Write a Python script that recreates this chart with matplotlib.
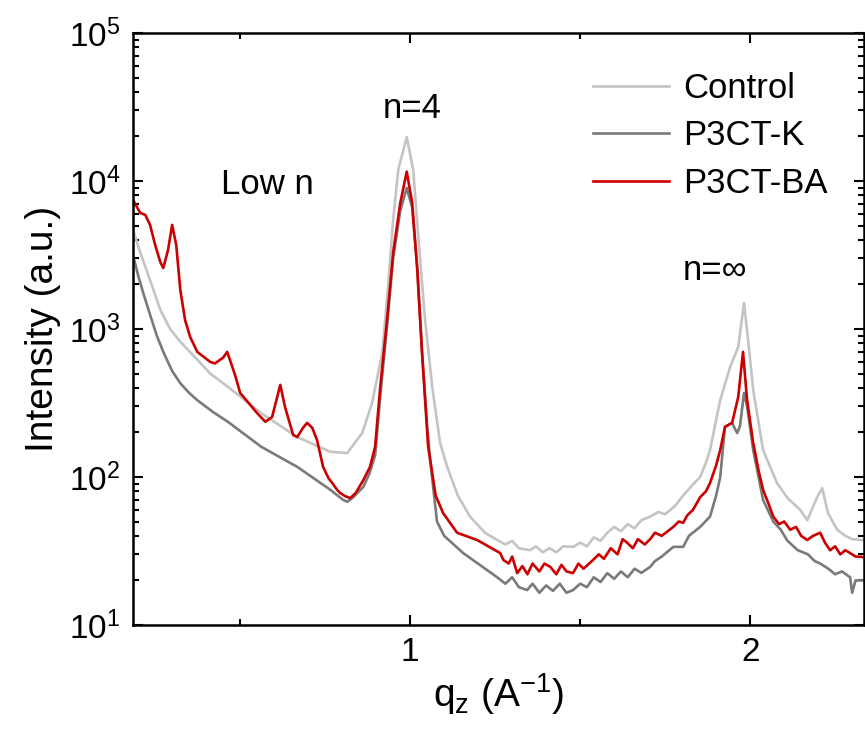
import matplotlib
matplotlib.use("Agg")
import matplotlib.pyplot as plt
from matplotlib.ticker import LogLocator, FixedLocator, NullFormatter

plt.rcParams['font.family'] = ['Liberation Sans', 'DejaVu Sans']
plt.rcParams['mathtext.fontset'] = 'custom'
plt.rcParams['mathtext.rm'] = 'Liberation Sans'
plt.rcParams['mathtext.it'] = 'Liberation Sans:italic'

# Control (light grey)
q_control = [0.185, 0.206, 0.235, 0.265, 0.294, 0.324, 0.374, 0.412, 0.465, 0.562,
             0.668, 0.765, 0.815, 0.859, 0.888, 0.918, 0.935, 0.950, 0.965, 0.990,
             1.009, 1.024, 1.044, 1.065, 1.088, 1.109, 1.14, 1.176, 1.22, 1.256,
             1.28, 1.30, 1.32, 1.353, 1.37, 1.39,
             1.41, 1.43, 1.45, 1.48, 1.50, 1.52, 1.54, 1.56, 1.58, 1.60,
             1.62, 1.64, 1.66, 1.68, 1.706, 1.73, 1.75, 1.78, 1.803, 1.83,
             1.853, 1.87, 1.882, 1.912, 1.941, 1.965, 1.982, 1.994, 2.009, 2.038,
             2.079, 2.11, 2.147, 2.168, 2.197, 2.212, 2.229, 2.256, 2.28, 2.30, 2.332]
i_control = [4670, 3300, 2140, 1350, 1000, 820, 620, 500, 405, 270,
             186, 148, 145, 198, 316, 690, 1920, 5450, 11900, 19800,
             11900, 4190, 1150, 405, 170, 117, 75, 54, 42, 37.5,
             35, 37, 33, 32, 34, 31,
             33, 31, 34, 33.7, 36, 34, 39, 37, 42, 46,
             43, 48, 45, 51, 54, 58, 56, 64, 75, 88,
             100, 125, 152, 331, 553, 755, 1500, 843, 387, 152,
             91, 72, 60, 51, 73, 84, 57, 44, 40, 38, 37.5]

# P3CT-K (dark grey)
q_k = [0.185, 0.20, 0.215, 0.235, 0.255, 0.274, 0.30, 0.324, 0.35, 0.374,
       0.42, 0.465, 0.562, 0.668, 0.765, 0.803, 0.815, 0.83, 0.862, 0.88,
       0.897, 0.912, 0.932, 0.950, 0.971, 0.990, 1.006, 1.021, 1.035, 1.05,
       1.059, 1.079, 1.10, 1.156, 1.256,
       1.28, 1.30, 1.32, 1.344, 1.36, 1.38, 1.40, 1.42, 1.44, 1.46,
       1.479, 1.50, 1.52, 1.54, 1.56, 1.58, 1.60, 1.62, 1.64, 1.66,
       1.68, 1.706, 1.72, 1.74, 1.774, 1.803, 1.82, 1.853, 1.882, 1.90,
       1.912, 1.926, 1.947, 1.956, 1.962, 1.97, 1.982, 1.991, 2.009, 2.038,
       2.068, 2.09, 2.11, 2.14, 2.17, 2.19, 2.206, 2.23, 2.25, 2.27,
       2.294, 2.30, 2.31, 2.332]
i_k = [3160, 2300, 1750, 1250, 900, 700, 520, 430, 370, 330,
       275, 235, 160, 117, 82, 70, 68, 72, 85.5, 105,
       140, 350, 1050, 3000, 6300, 8980, 6600, 2600, 700, 220,
       130, 50, 40, 30.6, 21,
       19, 21, 18, 17.2, 19, 16.5, 18.5, 17, 19, 16.5,
       17.2, 19, 18, 21, 19.5, 22.4, 20.5, 23, 21, 24,
       22.5, 24.7, 27, 29, 33.7, 33.7, 40, 46, 54, 75,
       100, 218, 232, 210, 198, 220, 370, 300, 152, 70,
       50, 44, 37, 32, 30, 27, 26, 24, 22, 23,
       21, 16.5, 20, 20]

# P3CT-BA (red)
q_ba = [0.185, 0.206, 0.221, 0.235, 0.25, 0.265, 0.274, 0.288, 0.30, 0.312,
        0.324, 0.338, 0.353, 0.374, 0.412, 0.426, 0.45, 0.462, 0.485, 0.50,
        0.55, 0.574, 0.594, 0.618, 0.632, 0.656, 0.668, 0.685, 0.697, 0.712,
        0.726, 0.744, 0.76, 0.771, 0.785, 0.794, 0.81, 0.824, 0.84, 0.862,
        0.882, 0.897, 0.912, 0.932, 0.950, 0.971, 0.990, 1.006, 1.021, 1.035,
        1.053, 1.075, 1.097, 1.138, 1.197, 1.265, 1.274, 1.29, 1.30, 1.315,
        1.33, 1.345, 1.36, 1.38, 1.395, 1.412, 1.43, 1.445, 1.46, 1.479,
        1.495, 1.51, 1.538, 1.555, 1.57, 1.59, 1.61, 1.625, 1.638, 1.655,
        1.67, 1.69, 1.706, 1.72, 1.74, 1.774, 1.79, 1.803, 1.815, 1.832,
        1.853, 1.87, 1.882, 1.90, 1.912, 1.926, 1.947, 1.965, 1.979, 1.991,
        2.009, 2.025, 2.038, 2.055, 2.068, 2.085, 2.10, 2.118, 2.135, 2.15,
        2.168, 2.185, 2.206, 2.22, 2.235, 2.25, 2.265, 2.28, 2.294, 2.31, 2.332]
i_ba = [7450, 6080, 5900, 5050, 3700, 2840, 2580, 3420, 5050, 3700,
        1840, 1150, 883, 700, 599, 585, 640, 700, 489, 370,
        270, 236, 254, 419, 297, 192, 186, 215, 232, 215,
        178, 117, 98, 91, 82, 78, 74, 72, 78, 95,
        117, 160, 405, 1150, 3270, 7100, 11560, 7100, 2500, 690,
        160, 75, 57, 42, 37.5, 30.6, 27.5, 26, 29, 22.4,
        25, 22, 26, 23, 26, 24.7, 22, 25.5, 23, 22.4,
        26, 24, 27.5, 30, 28, 33, 30, 38, 36, 33,
        38, 35, 38, 42, 40, 46, 50, 49, 55, 60,
        73, 80, 91, 120, 152, 218, 232, 348, 700, 331,
        170, 110, 82, 65, 54, 48, 50, 44, 46, 40,
        37.5, 40, 42, 36, 32, 34, 30, 32, 30.6, 29, 28.8]

fig = plt.figure(figsize=(8.65, 7.29), dpi=100)
ax = fig.add_axes([0.1538, 0.1427, 0.8451, 0.8121])

ax.plot(q_control, i_control, color='#c4c4c4', lw=1.9, label='Control')
ax.plot(q_k, i_k, color='#7a7a7a', lw=1.9, label='P3CT-K')
ax.plot(q_ba, i_ba, color='#cc0000', lw=1.9, label='P3CT-BA')

ax.set_yscale('log')
ax.set_xlim(0.185, 2.335)
ax.set_ylim(10, 1e5)

ax.xaxis.set_major_locator(FixedLocator([1, 2]))
ax.xaxis.set_minor_locator(FixedLocator([0.5, 1.5]))
ax.set_xticklabels(['1', '2'])
ax.yaxis.set_major_locator(LogLocator(base=10, numticks=10))
ax.yaxis.set_minor_locator(LogLocator(base=10, subs=range(2, 10), numticks=10))
ax.yaxis.set_minor_formatter(NullFormatter())

ax.tick_params(which='both', direction='in', top=True, right=True, width=1.5,
               labelsize=24, pad=9)
ax.tick_params(which='major', length=7)
ax.tick_params(which='minor', length=4)
for s in ax.spines.values():
    s.set_linewidth(1.8)

ax.set_xlabel(r'q$_\mathregular{z}$ (A$^{\mathregular{-1}}$)', fontsize=28, labelpad=2)
ax.set_ylabel('Intensity (a.u.)', fontsize=28, labelpad=6)

ax.text(1.006, 31000, 'n=4', fontsize=25, ha='center', va='center')
ax.text(0.58, 9400, 'Low n', fontsize=25, ha='center', va='center')
ax.text(1.897, 2500, 'n=\u221e', fontsize=25, ha='center', va='center')

ax.legend(loc='upper left', bbox_to_anchor=(0.61, 0.958), frameon=False, fontsize=25,
          handlelength=2.2, handletextpad=0.4, labelspacing=0.42, borderaxespad=0)

fig.savefig('out.png', dpi=100)
